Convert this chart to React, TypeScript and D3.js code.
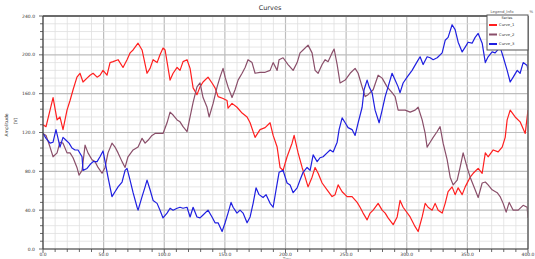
import React from "react";
import * as d3 from "d3";

const title = "Curves";
const xTitle = "Time";
const yTitle = "Amplitude";
const yUnit = "(V)";
const seriesNames = ["Curve_1", "Curve_2", "Curve_3"];
const seriesColors = ["#ff1f1f", "#8a4f6a", "#1f1fe0"];
const xTicks = [0, 50, 100, 150, 200, 250, 300, 350, 400];
const yTicks = [0, 40, 80, 120, 160, 200, 240];

type P = [number, number];

const red: P[] = [
  [0,128],[2.5,126],[5.8,143],[8.3,156],[11.6,133],[14,136],[16.5,123],[19.8,143],[22.3,153],[24.8,164],
  [28,177],[30.5,181],[33,172],[36.3,176],[38.8,179],[41.3,181],[44.6,177],[47,179],[49.5,184],[52.8,179],
  [55.3,192],[57.8,193],[61.9,195],[66,187],[69.3,195],[71.8,202],[74.3,205],[78.4,212],[81.7,205],[85.8,181],
  [88.3,186],[90.8,195],[94.1,192],[96.5,200],[99,207],[100.7,205],[104.8,174],[107.3,181],[110.6,187],[113,184],
  [115.5,193],[118.8,195],[121.3,186],[123.8,166],[127,159],[129.5,167],[132,172],[136.1,177],[139.4,171],[141.9,166],
  [144.4,157],[148.5,155],[151.8,153],[152.6,145],[155.9,150],[160,146],[164.2,140],[168.3,136],[170.8,130],[174.9,115],
  [179,123],[183.2,125],[187.3,130],[189.8,117],[193.1,105],[195.5,84],[198,81],[201.3,95],[205.4,109],[207.1,117],
  [210.4,99],[213.7,84],[216.2,74],[218.6,64],[221.9,74],[224.4,84],[226.9,78],[230.2,68],[234.3,61],[238.4,54],
  [240.9,56],[243.4,66],[246.7,59],[250.8,54],[254.9,54],[259.1,48],[261.5,43],[264,37],[267.3,30],[269.8,37],
  [272.3,40],[276.4,47],[279.7,40],[282.2,37],[284.6,32],[288.8,25],[292.1,33],[294.5,50],[297,43],[302.8,33],
  [306.9,23],[309.4,18],[312.7,33],[315.2,47],[317.6,43],[320.9,40],[323.4,47],[325.9,40],[329.2,37],[331.7,47],
  [334.1,59],[337.4,64],[339.9,56],[342.4,63],[345.7,56],[348.2,64],[352.3,74],[354.8,78],[358.9,83],[362.2,78],
  [364.8,99],[367.1,95],[371.3,102],[375.4,100],[378.7,105],[381.2,115],[382.8,133],[385.3,143],[389.4,136],[393.5,131],
  [397.7,119],[400,143]
];

const purple: P[] = [
  [0,119],[2.5,117],[5.8,105],[8.3,95],[11.6,99],[14,110],[16.5,109],[19.8,99],[22.3,99],[24.8,94],
  [28,84],[29.7,76],[32.2,81],[34.7,107],[37.1,99],[40.4,92],[42.9,90],[45.4,84],[48.7,78],[51.2,84],
  [53.6,99],[56.9,109],[59.4,105],[61.9,99],[65.2,90],[67.7,84],[70.1,95],[74.3,102],[78.4,105],[81.7,114],
  [84.2,109],[86.6,112],[89.9,117],[92.4,119],[96.5,119],[99,119],[102.3,130],[104.8,141],[107.3,138],[110.6,133],
  [113,131],[115.5,126],[118.8,121],[121.3,136],[123.8,151],[127,167],[129.5,171],[132,156],[135.3,146],[137,136],
  [140.3,150],[143.6,167],[146,177],[148.5,186],[150.2,177],[152.6,167],[155.9,156],[158.4,164],[160.9,174],[164.2,181],
  [166.7,187],[169.1,195],[172.4,192],[174.9,181],[179,182],[183.2,182],[187.3,184],[189.8,192],[193.1,184],[194.7,195],
  [198,197],[202.1,190],[206.3,184],[209.6,192],[212,202],[214.5,205],[218.6,210],[221.9,202],[224.4,184],[226.9,181],
  [230.2,190],[232.7,195],[235.1,193],[238.4,202],[240.1,206],[242.6,190],[245,171],[249.2,174],[253.3,181],[257.4,186],
  [259.9,181],[263.2,167],[265.7,157],[268.1,159],[272.3,164],[276.4,179],[279.7,176],[283.8,167],[287.9,161],[290.4,157],
  [292.9,143],[296.2,143],[298.7,143],[302.8,141],[306.9,143],[309.4,146],[312.7,133],[315.2,119],[316.8,105],[319.3,110],
  [321.8,115],[325.1,121],[327.5,126],[330,109],[333.3,92],[335.8,74],[338.3,66],[341.6,71],[344,84],[346.5,99],
  [349.8,84],[352.3,74],[356.4,61],[358.9,53],[362.2,68],[364.8,69],[367.1,66],[370.4,61],[374.6,58],[377,54],
  [379.5,47],[382,38],[384.5,48],[387.8,40],[391.9,40],[396,45],[399.3,43],[400,32]
];

const blue: P[] = [
  [0,119],[2.5,114],[5.8,109],[8.3,110],[10.7,123],[12.4,114],[14,105],[16.5,115],[19,112],[21.5,109],
  [23.9,104],[26.4,102],[28.9,102],[32.2,95],[33,81],[36.3,83],[38.8,87],[41.3,90],[44.6,90],[47,95],
  [49.5,101],[51.2,90],[53.6,74],[56.9,54],[59.4,59],[61.9,64],[65.2,69],[67.7,81],[69.3,83],[71.8,71],
  [74.3,58],[77.6,43],[78.4,40],[81.7,54],[84.2,64],[85.8,71],[88.3,61],[90.8,50],[94.1,47],[96.5,40],
  [99,32],[102.3,37],[104.8,42],[107.3,40],[110.6,42],[113,43],[115.5,42],[118.8,43],[121.3,33],[123.8,43],
  [127,33],[129.5,32],[132,35],[136.1,40],[139.4,33],[141.9,27],[144.4,27],[147.7,18],[150.2,27],[152.6,37],
  [155.1,48],[156.8,43],[160,37],[162.5,40],[165,37],[168.3,27],[170.8,33],[173.3,47],[175.7,63],[178.2,56],
  [181.5,53],[184,56],[187.3,47],[189.8,43],[192.2,61],[194.7,79],[198,81],[201.3,68],[203.8,66],[206.3,58],
  [209.6,63],[212,71],[214.5,79],[217.8,84],[220.3,81],[222.8,97],[226.1,90],[228.5,94],[231,95],[234.3,99],
  [236.8,102],[239.3,100],[242.6,110],[244.2,123],[246.7,135],[249.2,130],[251.6,125],[254.9,123],[257.4,117],[259.9,130],
  [263.2,146],[264.8,164],[267.3,174],[269,167],[271.4,161],[273.9,143],[277.2,130],[279.7,143],[282.2,157],[284.6,167],
  [287.9,181],[290.4,174],[292.9,167],[294.5,161],[297,171],[300.3,177],[304.4,184],[308.6,193],[311,198],[313.5,190],
  [316.8,198],[319.3,197],[321.8,195],[325.1,197],[329.2,202],[331.7,215],[334.1,218],[337.4,231],[339.9,226],[342.4,213],
  [345.7,203],[348.2,208],[350.6,213],[353.9,212],[356.4,218],[358.9,222],[362.2,212],[364.8,192],[367.1,198],[370.4,203],
  [372.9,202],[377,208],[379.5,198],[382.8,184],[385.3,172],[387.8,177],[391.1,184],[393.5,181],[396,192],[399.3,189],
  [400,184]
];

const W = 535, H = 259;
const M = { left: 43, right: 528, top: 16, bottom: 249 };

export default function App() {
  const x = d3.scaleLinear().domain([0, 400]).range([M.left, M.right]);
  const y = d3.scaleLinear().domain([0, 240]).range([M.bottom, M.top]);
  const line = d3.line<P>().x(d => x(d[0])).y(d => y(d[1]));
  const xMinor = d3.range(0, 401, 10);
  const yMinor = d3.range(0, 241, 8);
  const series = [red, purple, blue];
  const font = "'DejaVu Sans', sans-serif";
  const lx = 487, ly = 15;
  return (
    <svg width={W} height={H} style={{ position: "absolute", left: 0, top: 0, background: "#fff" }} fontFamily={font}>
      <rect x={0} y={0} width={W} height={H} fill="#fff" />
      {xMinor.map(v => (
        <line key={"xm" + v} x1={x(v)} x2={x(v)} y1={M.top} y2={M.bottom}
          stroke={v % 50 === 0 ? "#bdbdbd" : "#e0e0e0"} strokeWidth={v % 50 === 0 ? 1.2 : 0.8} />
      ))}
      {yMinor.map(v => (
        <line key={"ym" + v} x1={M.left} x2={M.right} y1={y(v)} y2={y(v)}
          stroke={v % 40 === 0 ? "#bdbdbd" : "#e0e0e0"} strokeWidth={v % 40 === 0 ? 1.2 : 0.8} />
      ))}
      <defs>
        <clipPath id="clip"><rect x={M.left} y={M.top} width={M.right - M.left} height={M.bottom - M.top} /></clipPath>
      </defs>
      <g clipPath="url(#clip)">
        {series.map((s, i) => (
          <path key={i} d={line(s) || ""} fill="none" stroke={seriesColors[i]} strokeWidth={1.2} strokeLinejoin="round" />
        ))}
      </g>
      <line x1={M.left} x2={M.right} y1={M.top} y2={M.top} stroke="#6a6a6a" strokeWidth={2} />
      <line x1={M.right} x2={M.right} y1={M.top} y2={M.bottom} stroke="#6a6a6a" strokeWidth={1.5} />
      <line x1={M.left} x2={M.right} y1={M.bottom} y2={M.bottom} stroke="#444" strokeWidth={1.2} />
      <line x1={M.left} x2={M.left} y1={M.top} y2={M.bottom} stroke="#444" strokeWidth={1.2} />
      {yMinor.map(v => (
        <line key={"yt" + v} x1={M.left - (v % 40 === 0 ? 4 : 3)} x2={M.left} y1={y(v)} y2={y(v)} stroke="#444" strokeWidth={0.8} />
      ))}
      {xMinor.map(v => (
        <line key={"xt" + v} x1={x(v)} x2={x(v)} y1={M.bottom} y2={M.bottom + (v % 50 === 0 ? 4 : 3)} stroke="#444" strokeWidth={0.8} />
      ))}
      {yTicks.map(v => (
        <text key={"yl" + v} x={35} y={y(v)} dy="0.35em" textAnchor="end" fontSize={4.5} fill="#333">{d3.format(".1f")(v)}</text>
      ))}
      {xTicks.map(v => (
        <text key={"xl" + v} x={x(v)} y={M.bottom + 6.5} textAnchor="middle" fontSize={4.5} fill="#333">{d3.format(".1f")(v)}</text>
      ))}
      <text x={270} y={10} textAnchor="middle" fontSize={6.5} fill="#333">{title}</text>
      <text x={287} y={259.5} textAnchor="middle" fontSize={3.3} fill="#666">{xTitle}</text>
      <text transform="translate(8,125) rotate(-90)" textAnchor="middle" fontSize={4.5} fill="#333">{yTitle}</text>
      <text transform="translate(17,121) rotate(-90)" textAnchor="middle" fontSize={4.5} fill="#333">{yUnit}</text>
      <text x={502} y={12.5} textAnchor="middle" fontSize={3.8} fill="#555">Legend_Info</text>
      <text x={533} y={12.5} textAnchor="end" fontSize={3.8} fill="#555">%</text>
      <rect x={lx} y={ly} width={M.right - lx} height={35} fill="#fff" stroke="#555" strokeWidth={1} />
      <text x={lx + 20} y={ly + 4} textAnchor="middle" fontSize={3.5} fill="#333">Series</text>
      {seriesNames.map((n, i) => (
        <g key={n}>
          <line x1={lx + 2} x2={lx + 10} y1={ly + 10 + i * 9.5} y2={ly + 10 + i * 9.5} stroke={seriesColors[i]} strokeWidth={2} />
          <text x={lx + 12} y={ly + 10 + i * 9.5} dy="0.35em" fontSize={3.8} fill="#333">{n}</text>
        </g>
      ))}
    </svg>
  );
}
